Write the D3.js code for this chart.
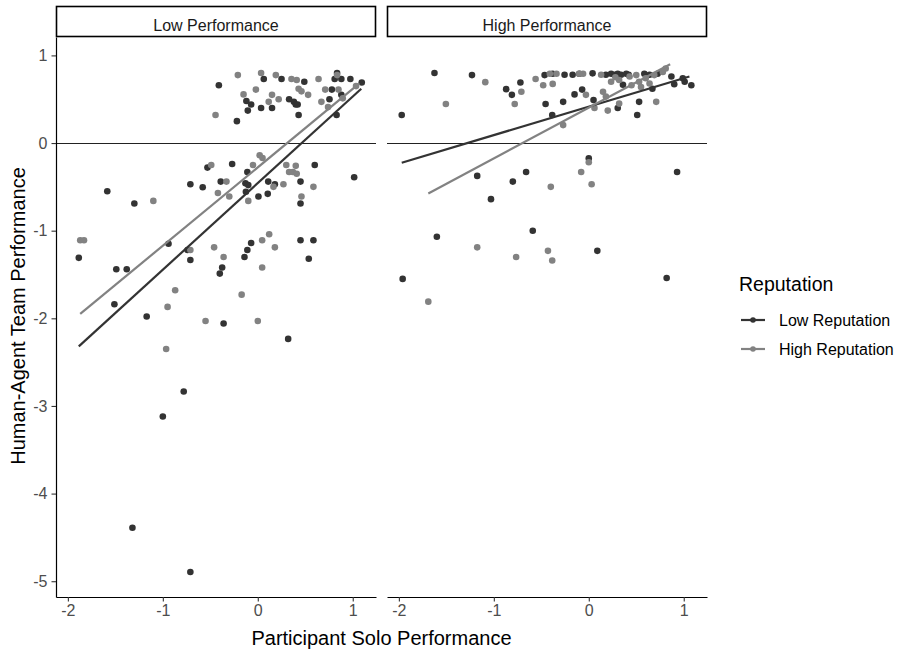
<!DOCTYPE html>
<html>
<head>
<meta charset="utf-8">
<script src="https://cdn.jsdelivr.net/npm/d3@7"></script>
<style>
  body { margin: 0; background: #fff; }
  text { font-family: Arial, "Liberation Sans", sans-serif; }
</style>
</head>
<body>
<svg></svg>
<script>
const WIDTH = 910;
const HEIGHT = 651;

const panels = ['Low Performance', 'High Performance'];
const reputations = ['Low Reputation', 'High Reputation'];
const xTicks = [-2, -1, 0, 1];
const yTicks = [1, 0, -1, -2, -3, -4, -5];

// Low Performance panel, [solo, team]
const lowPerfLowRep = [
  [-1.885, -1.31], [-1.585, -0.55], [-1.30, -0.69], [-1.49, -1.44], [-1.38, -1.44],
  [-1.51, -1.84], [-1.17, -1.98], [-0.94, -1.15], [-0.74, -1.22], [-0.71, -1.335],
  [-0.41, 0.66], [-0.71, -0.47], [-0.58, -0.505], [-0.53, -0.28], [-0.39, -0.44],
  [-0.27, -0.24], [-0.11, -0.33], [-0.13, -0.46], [-0.10, -0.48], [-0.125, -0.555],
  [0.007, -0.61], [0.105, -0.58], [0.11, -0.44], [0.18, -0.47], [0.45, -0.44],
  [0.60, -0.25], [1.015, -0.39], [0.45, -0.69], [0.45, -1.11], [0.586, -1.11],
  [0.537, -1.32], [-0.07, -1.14], [-0.11, -1.22], [-0.14, -1.30], [-0.375, -1.42],
  [-0.40, -1.49], [-0.36, -2.06], [0.32, -2.235], [-0.78, -2.835], [-1.0, -3.12],
  [-1.32, -4.39], [-0.71, -4.895], [-0.22, 0.25], [-0.12, 0.48], [-0.07, 0.44],
  [-0.105, 0.37], [0.035, 0.40], [0.063, 0.73], [0.15, 0.40], [0.25, 0.73],
  [0.33, 0.50], [0.38, 0.47], [0.40, 0.44], [0.42, 0.44], [0.43, 0.32],
  [0.49, 0.70], [0.755, 0.50], [0.78, 0.61], [0.81, 0.73], [0.835, 0.80],
  [0.88, 0.73], [0.83, 0.32], [0.975, 0.73], [1.095, 0.69], [0.88, 0.55]
];
const lowPerfHighRep = [
  [-1.87, -1.11], [-1.83, -1.11], [-1.10, -0.66], [-0.87, -1.68], [-0.95, -1.87],
  [-0.965, -2.35], [-0.55, -2.03], [0.0, -2.03], [-0.17, -1.73], [-0.71, -1.22],
  [-0.46, -1.19], [-0.36, -1.30], [0.046, -1.11], [0.12, -1.04], [0.18, -1.19],
  [0.046, -1.42], [-0.49, -0.25], [-0.42, -0.57], [-0.30, -0.61], [-0.33, -0.44],
  [-0.10, -0.66], [-0.05, -0.25], [0.02, -0.14], [0.05, -0.17], [0.165, -0.50],
  [0.27, -0.47], [0.30, -0.25], [0.33, -0.33], [0.37, -0.33], [0.40, -0.26],
  [0.41, -0.35], [0.46, -0.61], [0.586, -0.50], [-0.21, 0.775], [-0.445, 0.32],
  [-0.15, 0.555], [-0.02, 0.61], [0.035, 0.80], [0.115, 0.47], [0.15, 0.55],
  [0.19, 0.775], [0.22, 0.50], [0.355, 0.73], [0.41, 0.72], [0.43, 0.62],
  [0.46, 0.59], [0.53, 0.55], [0.64, 0.73], [0.67, 0.47], [0.71, 0.61],
  [0.74, 0.41], [0.835, 0.775], [0.85, 0.61], [0.895, 0.51], [1.035, 0.65]
];

// High Performance panel
const highPerfLowRep = [
  [-1.97, 0.32], [-1.625, 0.80], [-1.23, 0.775], [-0.87, 0.615], [-0.81, 0.55],
  [-0.72, 0.69], [-0.465, 0.775], [-0.455, 0.445], [-0.385, 0.32], [-0.27, 0.47],
  [-0.15, 0.555], [-0.07, 0.61], [0.05, 0.49], [0.305, 0.40], [0.51, 0.32],
  [0.53, 0.47], [0.67, 0.62], [0.90, 0.67], [1.01, 0.70], [1.08, 0.66],
  [-0.38, 0.79], [-0.255, 0.78], [-0.17, 0.78], [-0.10, 0.79], [0.04, 0.795],
  [0.18, 0.78], [0.235, 0.79], [0.27, 0.78], [0.305, 0.79], [0.34, 0.78],
  [0.395, 0.79], [0.42, 0.78], [0.585, 0.79], [0.64, 0.78], [0.725, 0.79],
  [0.87, 0.76], [0.99, 0.74], [0.36, 0.665], [-1.175, -0.375], [-1.03, -0.64],
  [-0.80, -0.44], [-0.66, -0.33], [0.0, -0.175], [0.93, -0.33], [-1.60, -1.07],
  [-0.59, -1.0], [0.09, -1.23], [-1.96, -1.55], [0.82, -1.54]
];
const highPerfHighRep = [
  [-1.505, 0.445], [-1.09, 0.695], [-0.71, 0.585], [-0.78, 0.445], [-0.56, 0.73],
  [-0.48, 0.66], [-0.38, 0.675], [-0.41, 0.79], [-0.34, 0.79], [-0.06, 0.79],
  [-0.03, 0.55], [0.15, 0.585], [0.18, 0.53], [0.235, 0.70], [0.32, 0.45],
  [0.06, 0.40], [0.20, 0.37], [0.32, 0.72], [0.43, 0.76], [0.50, 0.775],
  [0.53, 0.70], [0.60, 0.74], [0.64, 0.68], [0.69, 0.775], [0.78, 0.81],
  [0.81, 0.85], [0.71, 0.47], [-0.27, 0.205], [0.0, -0.22], [-0.08, -0.33],
  [0.03, -0.47], [-0.40, -0.50], [-1.175, -1.19], [-0.765, -1.30], [-0.43, -1.23],
  [-0.385, -1.34], [-1.69, -1.81], [-0.10, 0.79], [0.13, 0.78], [0.45, 0.66],
  [0.55, 0.64], [0.28, 0.75]
];

// fitted lines: [panel, reputation, x0, y0, x1, y1]
const fitLines = [
  [0, 0, -1.885, -2.32, 1.09, 0.62],
  [0, 1, -1.87, -1.95, 1.07, 0.68],
  [1, 0, -1.97, -0.225, 1.06, 0.76],
  [1, 1, -1.69, -0.575, 0.857, 0.90]
];

const pointSets = [
  [0, 0, lowPerfLowRep], [0, 1, lowPerfHighRep],
  [1, 0, highPerfLowRep], [1, 1, highPerfHighRep]
];

const colors = ['#333333', '#828282'];

const margin = {top: 37, left: 56, bottom: 597};
const panelW = 320;
const panelGap = 11;

const svg = d3.select('svg')
    .attr('width', WIDTH)
    .attr('height', HEIGHT);

const x = d3.scaleLinear().domain([-2.125, 1.245]).range([0, panelW]);
const y = d3.scaleLinear().domain([-5.18, 1.21]).range([margin.bottom, margin.top]);
const fmt = (d) => String(d);

function styleAxis(ax) {
  ax.select('.domain').attr('stroke', '#000').attr('stroke-width', 1.2);
  ax.selectAll('.tick line').attr('stroke', '#333').attr('stroke-width', 1.1);
  ax.selectAll('.tick text')
      .attr('font-size', 16).attr('fill', '#4D4D4D')
      .attr('font-family', 'Arial, "Liberation Sans", sans-serif');
}

panels.forEach((name, p) => {
  const g = svg.append('g')
      .attr('transform', `translate(${margin.left + p * (panelW + panelGap)},0)`);

  // strip
  g.append('rect')
      .attr('x', 0.5).attr('y', 6.5)
      .attr('width', panelW - 1).attr('height', 30)
      .attr('fill', '#fff').attr('stroke', '#000').attr('stroke-width', 1.6);
  g.append('text')
      .attr('x', panelW / 2).attr('y', 30.5)
      .attr('text-anchor', 'middle')
      .attr('font-size', 16).attr('fill', '#1A1A1A')
      .text(name);

  // reference line at 0
  g.append('line')
      .attr('x1', 0).attr('x2', panelW)
      .attr('y1', y(0) + 0.5).attr('y2', y(0) + 0.5)
      .attr('stroke', '#222').attr('stroke-width', 1.1);

  // x axis
  const xAxis = g.append('g')
      .attr('transform', `translate(0,${margin.bottom})`)
      .call(d3.axisBottom(x).tickValues(xTicks).tickSize(4.5).tickSizeOuter(0)
          .tickPadding(3).tickFormat(fmt));
  styleAxis(xAxis);

  if (p === 0) {
    const yAxis = g.append('g')
        .call(d3.axisLeft(y).tickValues(yTicks).tickSize(4.5).tickSizeOuter(0)
            .tickPadding(4).tickFormat(fmt));
    styleAxis(yAxis);
  }

  // points
  pointSets.filter((s) => s[0] === p).forEach(([, r, pts]) => {
    g.append('g').selectAll('circle')
        .data(pts)
      .enter().append('circle')
        .attr('cx', (d) => x(d[0]))
        .attr('cy', (d) => y(d[1]))
        .attr('r', 3.3)
        .attr('fill', colors[r]);
  });

  // fit lines
  fitLines.filter((f) => f[0] === p).forEach((f) => {
    g.append('line')
        .attr('x1', x(f[2])).attr('y1', y(f[3]))
        .attr('x2', x(f[4])).attr('y2', y(f[5]))
        .attr('stroke', colors[f[1]])
        .attr('stroke-width', 2.2);
  });
});

// axis titles
svg.append('text')
    .attr('x', margin.left + (2 * panelW + panelGap) / 2)
    .attr('y', 645)
    .attr('text-anchor', 'middle')
    .attr('font-size', 20).attr('fill', '#000')
    .text('Participant Solo Performance');

svg.append('text')
    .attr('transform', 'translate(25,316) rotate(-90)')
    .attr('text-anchor', 'middle')
    .attr('font-size', 20).attr('fill', '#000')
    .text('Human-Agent Team Performance');

// legend
const legend = svg.append('g').attr('transform', 'translate(739,0)');
legend.append('text')
    .attr('x', 0).attr('y', 291)
    .attr('font-size', 19.5).attr('fill', '#000')
    .text('Reputation');

const items = legend.selectAll('g.item')
    .data(reputations)
  .enter().append('g')
    .attr('class', 'item')
    .attr('transform', (d, i) => `translate(0,${320 + i * 29})`);
items.append('line')
    .attr('x1', 2).attr('x2', 26)
    .attr('stroke', (d, i) => colors[i])
    .attr('stroke-width', 2.2);
items.append('circle')
    .attr('cx', 14).attr('r', 2.8)
    .attr('fill', (d, i) => colors[i]);
items.append('text')
    .attr('x', 40).attr('y', 5.5)
    .attr('font-size', 16).attr('fill', '#000')
    .text((d) => d);
</script>
</body>
</html>
